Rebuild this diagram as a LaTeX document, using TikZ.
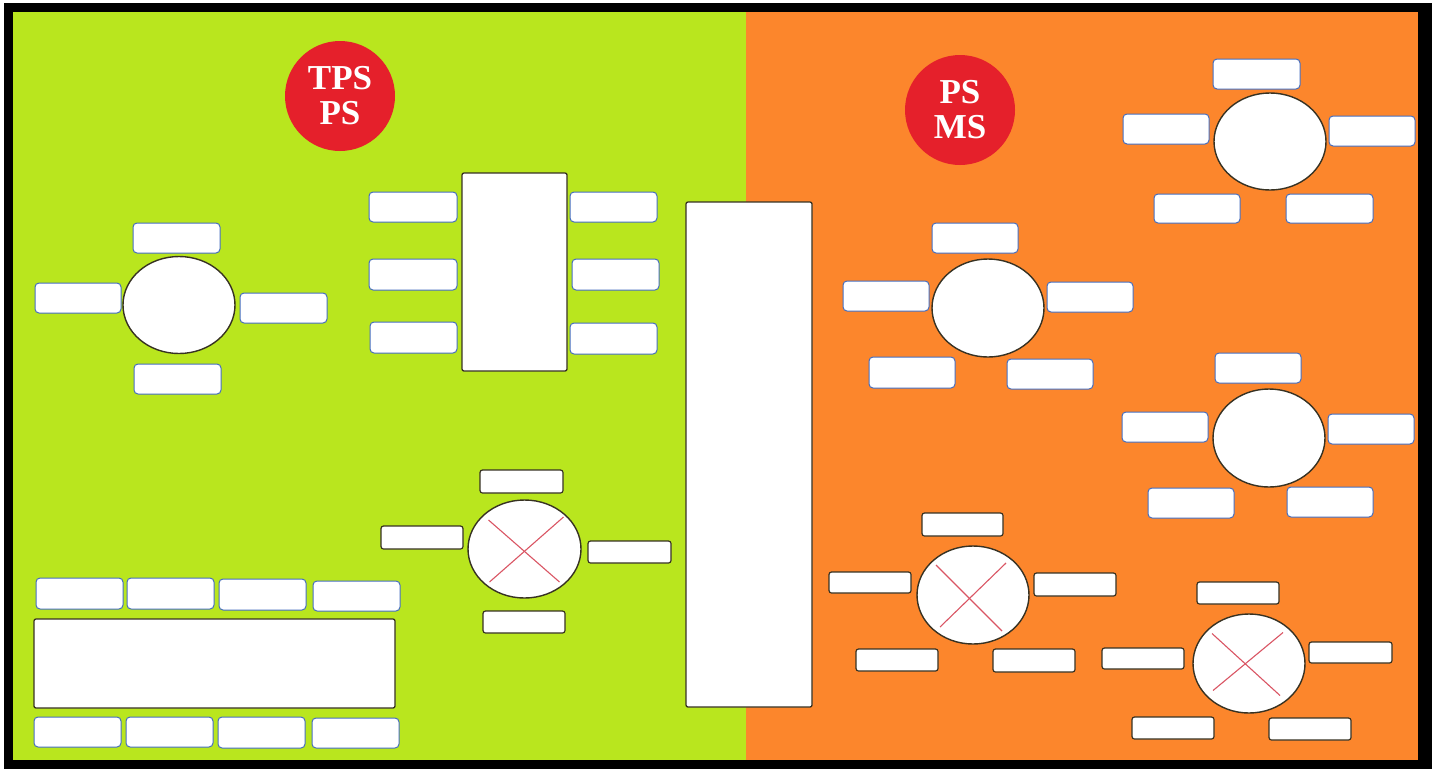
\documentclass[tikz,border=0pt]{standalone}
\usepackage{fontspec}
\setmainfont{Liberation Serif}
\usetikzlibrary{shapes.geometric}
\definecolor{limebg}{RGB}{185,230,30}
\definecolor{orangebg}{RGB}{252,134,44}
\definecolor{badgered}{RGB}{229,32,43}
\definecolor{boxblue}{RGB}{70,110,190}
\definecolor{darkline}{RGB}{55,50,35}
\definecolor{xred}{RGB}{218,85,100}
\newcommand\mkbox[6]{%
  \pgfmathsetmacro\mkcx{(#3+#5)/2}\pgfmathsetmacro\mkcy{(#4+#6)/2}%
  \pgfmathsetmacro\mkw{#5-#3}\pgfmathsetmacro\mkh{#6-#4}%
  \node[#1,minimum width=\mkw pt,minimum height=\mkh pt] (#2) at (\mkcx,\mkcy) {};}
\newcommand\mkell[5]{%
  \node[ell,minimum width=#4pt,minimum height=#5pt] (#1) at (#2,#3) {};}
\tikzset{
  bbox/.style={draw=boxblue,fill=white,line width=1pt,rounded corners=4pt,inner sep=0pt},
  dbox/.style={draw=darkline,fill=white,line width=1.2pt,rounded corners=2.5pt,inner sep=0pt},
  bigrect/.style={draw=darkline,fill=white,line width=1.3pt,rounded corners=2pt,inner sep=0pt},
  ell/.style={ellipse,draw=darkline,fill=white,line width=1.4pt,inner sep=0pt},
  xline/.style={draw=xred,line width=1.1pt},
  badge/.style={circle,fill=badgered,text=white,minimum size=110pt,inner sep=0pt,align=center,
    font=\fontsize{35}{35}\selectfont\bfseries}
}
\begin{document}
\begin{tikzpicture}[x=1pt,y=-1pt]
\useasboundingbox (0,0) rectangle (1439,769);
\fill[white] (0,0) rectangle (1439,769);
\fill[black] (4,3) rectangle (1432,769);
\fill[limebg] (13,12) rectangle (746,760);
\fill[orangebg] (746,12) rectangle (1418,760);

% badges
\node[badge] (b1) at (340,96) {TPS\\PS};
\node[badge] (b2) at (960,110) {PS\\MS};

% left ellipse group
\mkell{e1}{179}{305}{112}{97}
\mkbox{bbox}{e1t}{133}{223}{220}{253}
\mkbox{bbox}{e1b}{134}{364}{221}{394}
\mkbox{bbox}{e1r}{240}{293}{327}{323}
\mkbox{bbox}{e1l}{35}{283}{121}{313}

% rectangle group
\mkbox{bigrect}{r1}{462}{173}{567}{371}
\mkbox{bbox}{r1l1}{369}{192}{457}{222}
\mkbox{bbox}{r1l2}{369}{259}{457}{290}
\mkbox{bbox}{r1l3}{370}{322}{457}{353}
\mkbox{bbox}{r1r1}{570}{192}{657}{222}
\mkbox{bbox}{r1r2}{572}{259}{659}{290}
\mkbox{bbox}{r1r3}{570}{323}{657}{354}

% left X group
\mkell{x1}{524.5}{549}{113}{98}
\draw[xline] ([shift={(-36,-29)}]x1.center) -- ([shift={(35,33)}]x1.center);
\draw[xline] ([shift={(39,-32)}]x1.center) -- ([shift={(-35,33)}]x1.center);
\mkbox{dbox}{x1t}{480}{470}{563}{493}
\mkbox{dbox}{x1l}{381}{526}{463}{549}
\mkbox{dbox}{x1r}{588}{541}{671}{563}
\mkbox{dbox}{x1b}{483}{611}{565}{633}

% bottom-left group
\mkbox{bigrect}{big}{34}{619}{395}{708}
\mkbox{bbox}{t1}{36}{578}{123}{609}
\mkbox{bbox}{t2}{127}{578}{214}{609}
\mkbox{bbox}{t3}{219}{579}{306}{610}
\mkbox{bbox}{t4}{313}{581}{400}{611}
\mkbox{bbox}{u1}{34}{717}{121}{747}
\mkbox{bbox}{u2}{126}{717}{213}{747}
\mkbox{bbox}{u3}{218}{717}{305}{748}
\mkbox{bbox}{u4}{312}{718}{399}{748}

% middle tall rectangle
\mkbox{bigrect}{mid}{686}{202}{812}{707}

% right ellipse group A (top right)
\mkell{e2}{1270}{141.5}{112}{97}
\mkbox{bbox}{e2t}{1213}{59}{1300}{89}
\mkbox{bbox}{e2l}{1123}{114}{1209}{144}
\mkbox{bbox}{e2r}{1329}{116}{1415}{146}
\mkbox{bbox}{e2bl}{1154}{194}{1240}{223}
\mkbox{bbox}{e2br}{1286}{194}{1373}{223}

% right ellipse group B
\mkell{e3}{988}{308}{112}{98}
\mkbox{bbox}{e3t}{932}{223}{1018}{253}
\mkbox{bbox}{e3l}{843}{281}{929}{311}
\mkbox{bbox}{e3r}{1047}{282}{1133}{312}
\mkbox{bbox}{e3bl}{869}{357}{955}{388}
\mkbox{bbox}{e3br}{1007}{359}{1093}{389}

% right ellipse group C
\mkell{e4}{1269}{438}{112}{98}
\mkbox{bbox}{e4t}{1215}{353}{1301}{383}
\mkbox{bbox}{e4l}{1122}{412}{1208}{442}
\mkbox{bbox}{e4r}{1328}{414}{1414}{444}
\mkbox{bbox}{e4bl}{1148}{488}{1234}{518}
\mkbox{bbox}{e4br}{1287}{487}{1373}{517}

% right X group 1
\mkell{x2}{973}{595}{112}{98}
\draw[xline] ([shift={(-37,-30)}]x2.center) -- ([shift={(29,36)}]x2.center);
\draw[xline] ([shift={(33,-32)}]x2.center) -- ([shift={(-33,32)}]x2.center);
\mkbox{dbox}{x2t}{922}{513}{1003}{536}
\mkbox{dbox}{x2l}{829}{572}{911}{593}
\mkbox{dbox}{x2r}{1034}{573}{1116}{596}
\mkbox{dbox}{x2bl}{856}{649}{938}{671}
\mkbox{dbox}{x2br}{993}{649}{1075}{672}

% right X group 2
\mkell{x3}{1249}{663.5}{112}{99}
\draw[xline] ([shift={(-37,-30)}]x3.center) -- ([shift={(31,32)}]x3.center);
\draw[xline] ([shift={(34,-31)}]x3.center) -- ([shift={(-36,27)}]x3.center);
\mkbox{dbox}{x3t}{1197}{582}{1279}{604}
\mkbox{dbox}{x3l}{1102}{648}{1184}{669}
\mkbox{dbox}{x3r}{1309}{642}{1392}{663}
\mkbox{dbox}{x3bl}{1132}{717}{1214}{739}
\mkbox{dbox}{x3br}{1269}{718}{1351}{740}
\end{tikzpicture}
\end{document}
